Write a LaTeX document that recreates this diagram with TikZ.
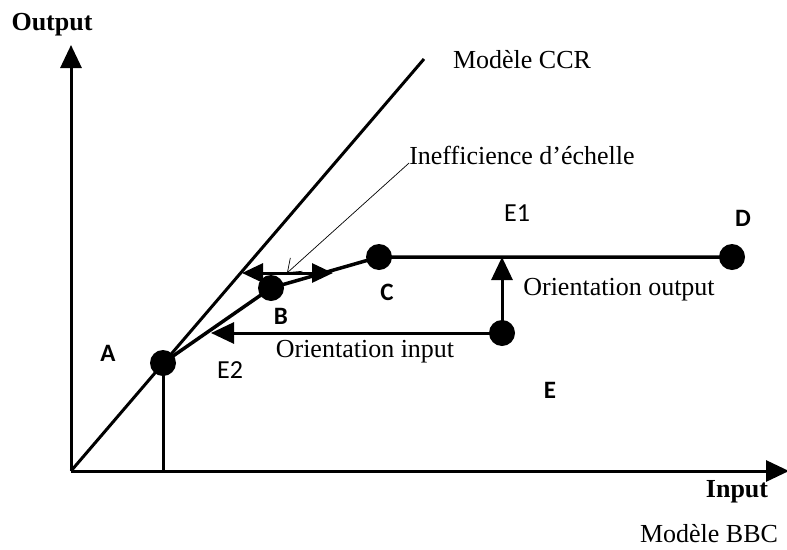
\documentclass[tikz,border=0pt]{standalone}
\usepackage{fontspec}
\setmainfont{Liberation Serif}
\newfontfamily\labelfont{Carlito}
\usetikzlibrary{arrows.meta}
\usetikzlibrary{positioning}

\begin{document}
\begin{tikzpicture}[x=1pt,y=-1pt,>={Triangle[length=23pt,width=21pt]},
        axis/.style={line width=3pt},
        front/.style={line width=3.5pt},
        dot/.style={circle,fill,inner sep=0pt,minimum size=26pt},
        txt/.style={inner sep=0pt,font=\fontsize{26}{30}\selectfont},
        ptname/.style={inner sep=0pt,font=\labelfont\bfseries\fontsize{25}{28}\selectfont},
        ename/.style={inner sep=0pt,font=\labelfont\fontsize{26}{30}\selectfont}]
        \useasboundingbox (0,0) rectangle (787,549);
        % axes
        \coordinate (O) at (71,471);
        \draw[axis,->] (O) -- (71,45) coordinate (ytip);
        \draw[axis,->] (O) -- (789,471) coordinate (xtip);
        \node[txt,font=\fontsize{26}{30}\selectfont\bfseries] (output) at (52,25) {Output};
        \node[txt,font=\fontsize{26}{30}\selectfont\bfseries] (input) at (737,492) {Input};
        \node[txt] (bbc) at (709,534) {Modèle BBC};

        % CCR frontier
        \draw[axis] (O) -- (424,59) coordinate (ccr);
        \node[txt] (ccrlab) at (522,60) {Modèle CCR};

        % units
        \node[dot] (A) at (163,363) {};
        \node[dot] (B) at (271,288) {};
        \node[dot] (C) at (379,257) {};
        \node[dot] (D) at (732,257) {};
        \node[dot] (E) at (502,333) {};
        \node[ptname] (Alab) at (108,353) {A};
        \node[ptname] (Blab) at (281,316) {B};
        \node[ptname] (Clab) at (387,292) {C};
        \node[ptname] (Dlab) at (743,218) {D};
        \node[ptname] (Elab) at (550,390) {E};
        \node[ename] (E1) at (517,213) {E1};
        \node[ename] (E2) at (230,370) {E2};

        % BBC frontier
        \draw[front] (A.center) -- (B.center) -- (C.center) -- (D.center);
        \draw[axis] (A.center) -- (A |- O);

        % orientations
        \draw[axis,->] (E.center) -- (E |- C);
        \node[txt] (orout) at (619,290) {Orientation output};
        \draw[axis,->] (E.center) -- (211,333) coordinate (Ein);
        \node[txt] (orin) at (365,352) {Orientation input};

        % scale inefficiency
        \draw[axis,{Triangle[length=21pt,width=19pt]}-{Triangle[length=21pt,width=19pt]}] (242,273) coordinate (sl) -- (333,273) coordinate (sr);
        \coordinate (smid) at (287,273);
        \node[txt] (ineff) at (522,155) {Inefficience d’échelle};
        \draw[line width=0.7pt,-{Straight Barb[length=12pt,width=18pt]}] ([yshift=-8pt]ineff.west) -- (smid);
\end{tikzpicture}
\end{document}
